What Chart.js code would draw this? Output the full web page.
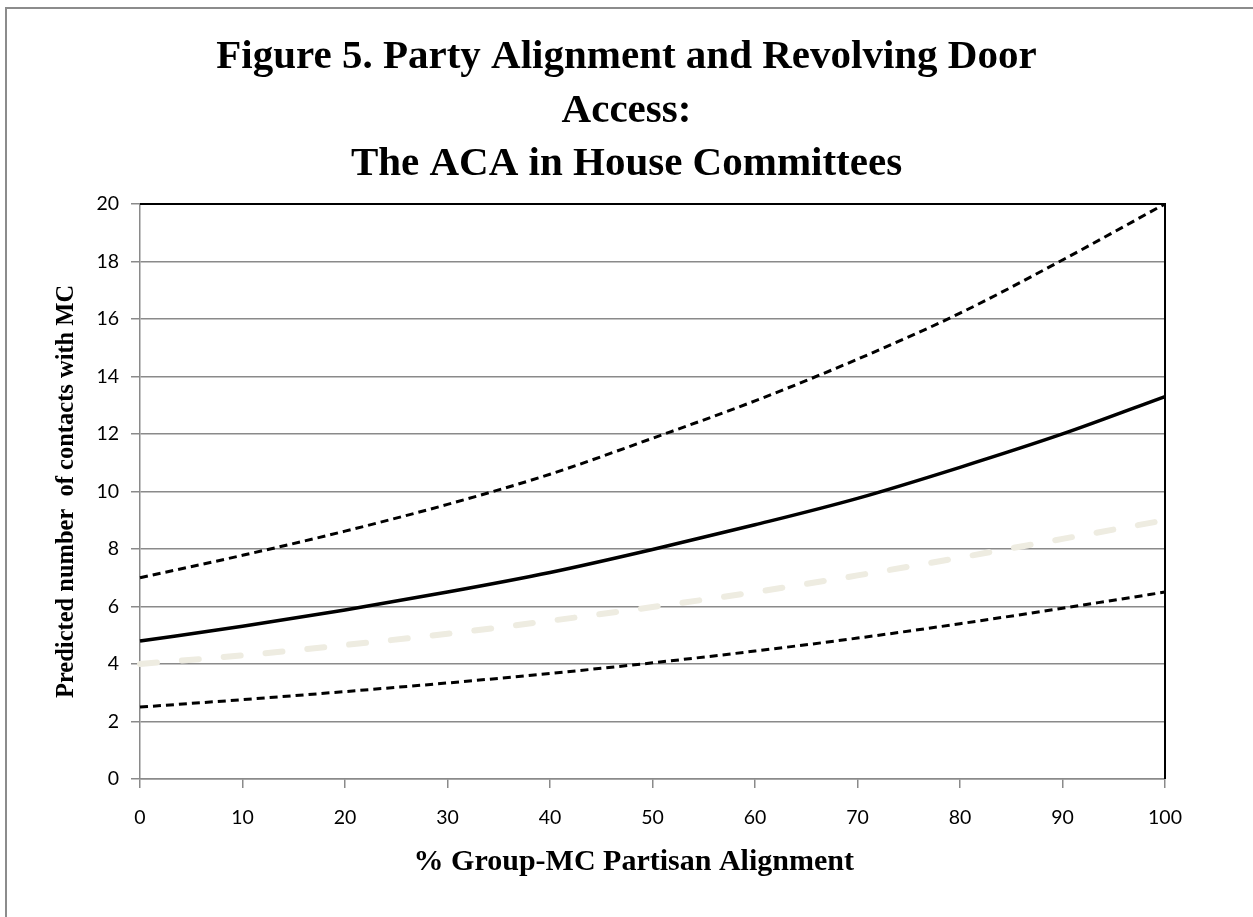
<!DOCTYPE html>
<html>
<head>
<meta charset="utf-8">
<script src="https://cdn.jsdelivr.net/npm/chart.js@4/dist/chart.umd.min.js"></script>
<style>
  html, body { margin: 0; padding: 0; background: #ffffff; }
  #wrap { width: 1253px; height: 917px; position: relative; }
</style>
</head>
<body>
<div id="wrap"><canvas id="chart" width="1253" height="917"></canvas></div>
<script>
// % of group–member partisan alignment (x categories)
const alignment = [0, 10, 20, 30, 40, 50, 60, 70, 80, 90, 100];

// Predicted contacts with the member of Congress, with its bounds
const predicted  = [4.8, 5.31, 5.88, 6.5, 7.18, 7.98, 8.84, 9.76, 10.84, 12.0, 13.3];
const upperBound = [7.0, 7.78, 8.62, 9.55, 10.6, 11.85, 13.15, 14.6, 16.2, 18.05, 20.0];
const lowerBound = [2.5, 2.76, 3.04, 3.34, 3.67, 4.04, 4.45, 4.9, 5.4, 5.94, 6.5];
const comparison = [4.0, 4.3, 4.66, 5.05, 5.5, 5.98, 6.5, 7.08, 7.7, 8.35, 9.0];

const yTickValues = [0, 2, 4, 6, 8, 10, 12, 14, 16, 18, 20];

const titleLines = [
  'Figure 5. Party Alignment and Revolving Door',
  'Access:',
  'The ACA in House Committees'
];
const xTitle = '% Group-MC Partisan Alignment';
const yTitle = 'Predicted number  of contacts with MC';

const serif = '"Liberation Serif", "Times New Roman", serif';
const sans = 'Lato, "Open Sans", sans-serif';
const gridGrey = '#8a8a8a';

// Outer grey frame (top and left edges) around the figure
const framePlugin = {
  id: 'frame',
  beforeDraw(chart) {
    const ctx = chart.ctx;
    ctx.save();
    ctx.fillStyle = '#ffffff';
    ctx.fillRect(0, 0, chart.width, chart.height);
    ctx.strokeStyle = '#8c8c8c';
    ctx.lineWidth = 2;
    ctx.beginPath();
    ctx.moveTo(6, chart.height);
    ctx.lineTo(6, 8);
    ctx.lineTo(chart.width, 8);
    ctx.stroke();
    ctx.restore();
  }
};

// Black plot-area border on the top and right sides
const plotBorderPlugin = {
  id: 'plotBorder',
  beforeDatasetsDraw(chart) {
    const { ctx, chartArea: a } = chart;
    ctx.save();
    ctx.strokeStyle = '#000000';
    ctx.lineWidth = 2;
    ctx.beginPath();
    ctx.moveTo(a.left, a.top);
    ctx.lineTo(a.right, a.top);
    ctx.lineTo(a.right, a.bottom);
    ctx.stroke();
    ctx.restore();
  }
};

const blackDashed = (label, data) => ({
  label,
  data,
  borderColor: '#000000',
  borderWidth: 3,
  borderDash: [8, 5],
  pointRadius: 0,
  cubicInterpolationMode: 'monotone',
  fill: false
});

new Chart(document.getElementById('chart'), {
  type: 'line',
  data: {
    labels: alignment,
    datasets: [
      blackDashed('Upper bound', upperBound),
      {
        label: 'Comparison',
        data: comparison,
        borderColor: '#EEECE1',
        borderWidth: 6,
        borderDash: [17, 25],
        borderCapStyle: 'round',
        pointRadius: 0,
        cubicInterpolationMode: 'monotone',
        fill: false
      },
      blackDashed('Lower bound', lowerBound),
      {
        label: 'Predicted',
        data: predicted,
        borderColor: '#000000',
        borderWidth: 3.5,
        pointRadius: 0,
        cubicInterpolationMode: 'monotone',
        fill: false
      }
    ]
  },
  options: {
    responsive: false,
    animation: false,
    devicePixelRatio: 1,
    layout: { padding: 0 },
    plugins: {
      legend: { display: false },
      tooltip: { enabled: false },
      title: {
        display: true,
        text: titleLines,
        color: '#000000',
        font: { family: serif, size: 41, weight: 'bold', lineHeight: 1.3 },
        padding: { top: 31, bottom: 13 }
      }
    },
    scales: {
      x: {
        type: 'category',
        offset: false,
        afterFit(scale) { scale.height = 138; },
        grid: {
          drawOnChartArea: false,
          drawTicks: true,
          tickLength: 9,
          tickColor: gridGrey,
          lineWidth: 1.5
        },
        border: { display: true, color: gridGrey, width: 1.5 },
        ticks: {
          color: '#000000',
          font: { family: sans, size: 19.5 },
          padding: 18,
          maxRotation: 0,
          autoSkip: false
        },
        title: {
          display: true,
          text: xTitle + '     ',
          color: '#000000',
          font: { family: serif, size: 30, weight: 'bold', lineHeight: 1.2 },
          padding: { top: 0, bottom: 37 }
        }
      },
      y: {
        min: 0,
        max: 20,
        afterFit(scale) { scale.width = 140; },
        afterBuildTicks(scale) { scale.ticks = yTickValues.map(v => ({ value: v })); },
        grid: {
          color: gridGrey,
          lineWidth: 1.5,
          drawTicks: true,
          tickLength: 9,
          tickColor: gridGrey
        },
        border: { display: true, color: gridGrey, width: 1.5 },
        ticks: {
          color: '#000000',
          font: { family: sans, size: 19.5 },
          padding: 12
        },
        title: {
          display: true,
          text: yTitle,
          color: '#000000',
          font: { family: serif, size: 24.5, weight: 'bold', lineHeight: 1.2 },
          padding: { top: 52, bottom: 0 }
        }
      },
      // empty margin to the right of the plot area
      yMargin: {
        position: 'right',
        min: 0,
        max: 20,
        afterFit(scale) { scale.width = 88; },
        grid: { display: false, drawTicks: false },
        border: { display: false },
        ticks: { display: false }
      }
    }
  },
  plugins: [framePlugin, plotBorderPlugin]
});
</script>
</body>
</html>
